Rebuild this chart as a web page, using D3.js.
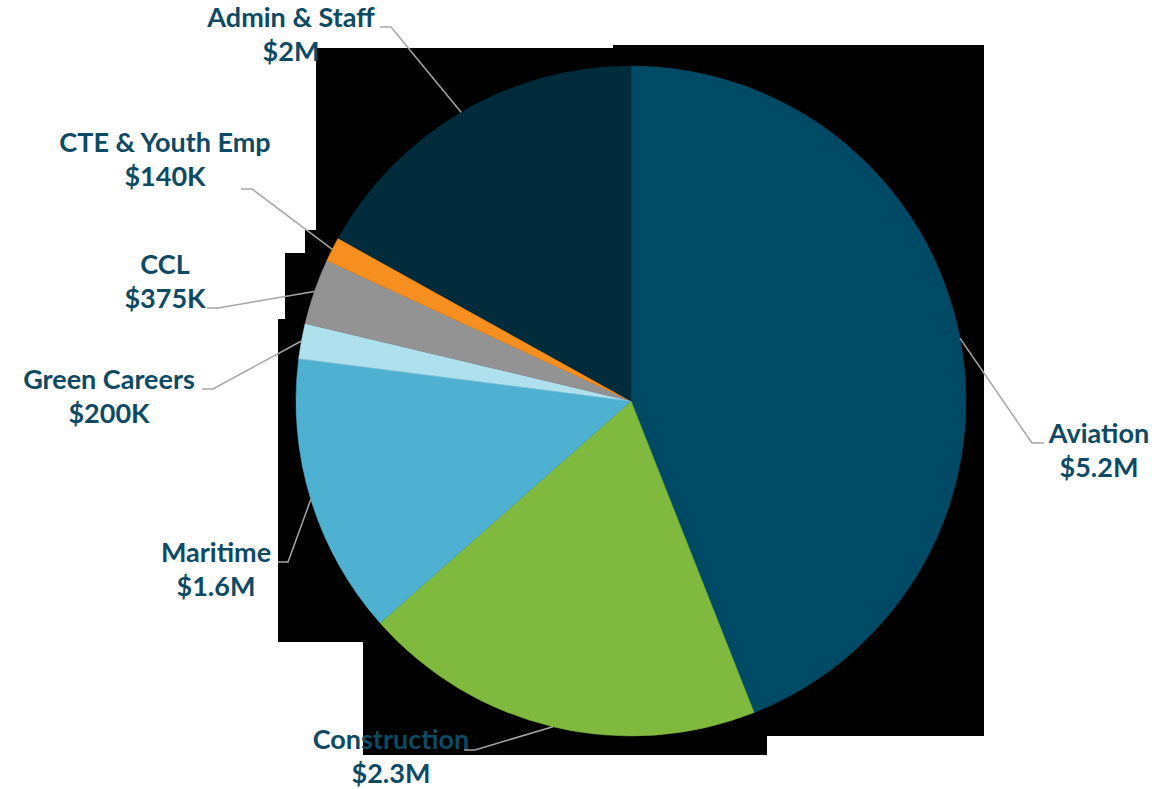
<!DOCTYPE html>
<html>
<head>
<meta charset="utf-8">
<script src="https://cdn.jsdelivr.net/npm/d3@7"></script>
<style>
  html, body { margin: 0; padding: 0; background: #ffffff; }
  svg { display: block; }
  .lbl { font-family: Lato, "Open Sans", sans-serif; font-weight: 700; fill: #0e4a64; }
</style>
</head>
<body>
<svg id="chart" width="1176" height="789"></svg>
<script>
// Program budgets
const categories = ["Aviation", "Construction", "Maritime", "Green Careers", "CCL", "CTE & Youth Emp", "Admin & Staff"];
const values = [5200000, 2300000, 1600000, 200000, 375000, 140000, 2000000];
const valueLabels = ["$5.2M", "$2.3M", "$1.6M", "$200K", "$375K", "$140K", "$2M"];
const colors = ["#004a65", "#7fba3e", "#4fb1d1", "#afe0ee", "#939393", "#f68f1f", "#022b3b"];

const W = 1176, H = 789;
const cx = 631, cy = 401, R = 335;

const svg = d3.select("#chart");

// Dark backdrop panel behind the pie
const backdrop = [
  [316, 48], [613, 48], [613, 45], [984, 45], [984, 736], [767, 736], [767, 755],
  [363, 755], [363, 642], [278, 642], [278, 319], [285, 319], [285, 253],
  [305, 253], [305, 230], [316, 230]
];
svg.append("path")
  .attr("d", d3.line()(backdrop) + "Z")
  .attr("fill", "#000000");

const data = categories.map((c, i) => ({ name: c, value: values[i], label: valueLabels[i], color: colors[i] }));

const pie = d3.pie().sort(null).value(d => d.value).startAngle(0).endAngle(2 * Math.PI);
const arcs = pie(data);
const arc = d3.arc().innerRadius(0).outerRadius(R);

const g = svg.append("g").attr("transform", `translate(${cx},${cy})`);
g.selectAll("path.slice")
  .data(arcs)
  .join("path")
  .attr("class", "slice")
  .attr("d", arc)
  .attr("fill", d => d.data.color)
  .attr("stroke", d => d.data.color)
  .attr("stroke-width", 0.5);

// Label placement: elbow point, line end and text centre for each slice
const labelLayout = [
  { elbow: [1032, 443], end: [1044, 443], tx: 1099, ty: 443 },
  { elbow: [475, 750], end: [464, 750], tx: 391, ty: 749 },
  { elbow: [288, 562], end: [278, 562], tx: 216, ty: 562 },
  { elbow: [213, 389], end: [202, 389], tx: 109, ty: 389 },
  { elbow: [218, 308], end: [207, 308], tx: 165, ty: 274 },
  { elbow: [252, 189], end: [241, 189], tx: 165, ty: 152 },
  { elbow: [391, 27], end: [380, 27], tx: 291, ty: 27 }
];

// Edge anchor of each leader at the slice's mid-angle on the rim
const rim = d3.arc().innerRadius(R).outerRadius(R);

const leaders = svg.append("g");
arcs.forEach((a, i) => {
  const [x, y] = rim.centroid(a);
  const L = labelLayout[i];
  leaders.append("path")
    .attr("d", d3.line()([[cx + x, cy + y], L.elbow, L.end]))
    .attr("fill", "none")
    .attr("stroke", "#a6a6a6")
    .attr("stroke-width", 1.5);
});

const labels = svg.append("g");
arcs.forEach((a, i) => {
  const L = labelLayout[i];
  const t = labels.append("text")
    .attr("class", "lbl")
    .attr("text-anchor", "middle")
    .attr("font-size", 27);
  t.append("tspan").attr("x", L.tx).attr("y", L.ty).text(a.data.name);
  t.append("tspan").attr("x", L.tx).attr("y", L.ty + 34).text(a.data.label);
});
</script>
</body>
</html>
